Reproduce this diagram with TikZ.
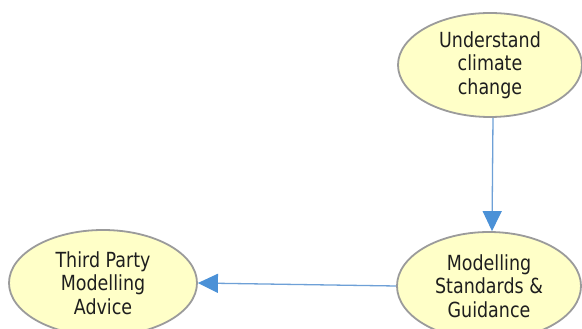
\documentclass[tikz,border=0pt]{standalone}
\usepackage{fontspec}
\setmainfont[FakeStretch=0.84]{DejaVu Sans}
\usetikzlibrary{shapes.geometric,arrows.meta}
\definecolor{nodefill}{RGB}{255,255,200}
\definecolor{nodeline}{RGB}{155,155,155}
\definecolor{linkline}{RGB}{110,160,215}
\definecolor{linktip}{RGB}{75,145,215}
\definecolor{txt}{RGB}{30,30,30}
\tikzset{
  goal/.style={ellipse, draw=nodeline, line width=1.8pt, fill=nodefill,
    inner sep=0pt, align=center, text=txt,
    font=\fontsize{20.8pt}{23.5pt}\selectfont},
  link/.style={draw=linkline, line width=1.3pt,
    -{Triangle[length=20pt,width=19pt,fill=linktip,color=linktip]}}
}
\begin{document}
\begin{tikzpicture}[x=1pt,y=1pt]
\useasboundingbox (0,0) rectangle (582,329);
\clip (0,0) rectangle (582,329);
\fill[white] (0,0) rectangle (582,329);
\node[goal, minimum width=184pt, minimum height=104pt] (uc) at (490,264)
  {Understand\\climate\\change};
\node[goal, minimum width=184pt, minimum height=108pt] (msg) at (489,43)
  {Modelling\\Standards \&\\Guidance};
\node[goal, minimum width=188pt, minimum height=106pt] (tpm) at (103,46)
  {Third Party\\Modelling\\Advice};
\draw[link] ([xshift=3pt]uc.south) -- ([xshift=3pt]msg.north);
\draw[link] (msg.west) -- (tpm.east);
\end{tikzpicture}
\end{document}
